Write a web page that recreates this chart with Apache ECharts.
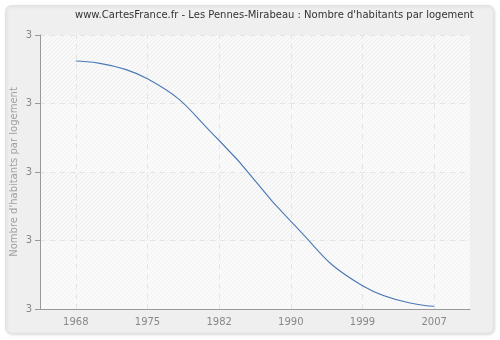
<!DOCTYPE html>
<html>
<head>
<meta charset="utf-8">
<script src="https://cdn.jsdelivr.net/npm/echarts@6/dist/echarts.min.js"></script>
<style>
  html, body { margin: 0; padding: 0; background: #ffffff; }
  #chart { width: 500px; height: 340px; }
</style>
</head>
<body>
<div id="chart"></div>
<script>
// Census years and average number of inhabitants per dwelling
var years = ['1968', '1975', '1982', '1990', '1999', '2007'];
var habitantsParLogement = [3.081, 3.068, 3.023, 2.964, 2.917, 2.902];

// Diagonal hatch used as the plot background
function hatch(bg, line) {
  var c = document.createElement('canvas');
  c.width = 4; c.height = 4;
  var ctx = c.getContext('2d');
  ctx.fillStyle = bg;
  ctx.fillRect(0, 0, 4, 4);
  ctx.fillStyle = line;
  for (var i = 0; i < 4; i++) {
    ctx.fillRect(i, 3 - i, 1, 1);
  }
  return { image: c, repeat: 'repeat' };
}

var chart = echarts.init(document.getElementById('chart'), null, { renderer: 'canvas' });

chart.setOption({
  animation: false,
  backgroundColor: '#ffffff',
  graphic: [{
    type: 'rect',
    z: -10,
    shape: { x: 5.5, y: 5.5, width: 488, height: 328, r: 6 },
    style: { fill: '#efefef', stroke: '#e2e2e2', lineWidth: 1,
             shadowColor: 'rgba(0,0,0,0.12)', shadowBlur: 3, shadowOffsetX: 1, shadowOffsetY: 1 }
  }],
  title: {
    text: "www.CartesFrance.fr - Les Pennes-Mirabeau : Nombre d'habitants par logement",
    left: 70,
    top: 5,
    textStyle: { fontFamily: 'DejaVu Sans', fontSize: 10, fontWeight: 'normal', color: '#333333' }
  },
  grid: { left: 40, right: 30, top: 35, bottom: 31, containLabel: false, outerBoundsMode: 'none' },
  xAxis: {
    type: 'category',
    data: years,
    boundaryGap: true,
    axisLine: { lineStyle: { color: '#999999', width: 1 } },
    axisTick: { alignWithLabel: true, length: 5, lineStyle: { color: '#999999' } },
    axisLabel: { color: '#888888', fontFamily: 'DejaVu Sans', fontSize: 10, margin: 8 },
    splitLine: { show: false }
  },
  yAxis: {
    type: 'value',
    min: 2.9,
    max: 3.1,
    interval: 0.05,
    name: "Nombre d'habitants par logement",
    nameLocation: 'middle',
    nameGap: 21,
    nameMoveOverlap: false,
    nameTextStyle: { color: '#a0a0a0', fontFamily: 'DejaVu Sans', fontSize: 10 },
    axisLine: { show: true, lineStyle: { color: '#999999', width: 1 } },
    axisTick: { show: true, length: 5, lineStyle: { color: '#999999' } },
    axisLabel: {
      color: '#888888', fontFamily: 'DejaVu Sans', fontSize: 10, margin: 8,
      formatter: function (v) { return Math.round(v).toString(); }
    },
    splitLine: { show: true, lineStyle: { color: '#e4e4e4', type: [5, 5], width: 1 } },
    splitArea: {
      show: true,
      areaStyle: { color: [hatch('#fafafa', '#f3f3f3'), hatch('#f9f9f9', '#eeeeee')] }
    }
  },
  series: [{
    type: 'line',
    data: habitantsParLogement,
    smooth: 0.5,
    smoothMonotone: 'none',
    symbol: 'none',
    lineStyle: { color: '#4a78b4', width: 1.1 },
    markLine: {
      silent: true,
      symbol: 'none',
      label: { show: false },
      lineStyle: { color: '#e4e4e4', type: [5, 5], width: 1 },
      data: years.map(function (y) { return { xAxis: y }; })
    },
    z: 5
  }]
});
</script>
</body>
</html>
